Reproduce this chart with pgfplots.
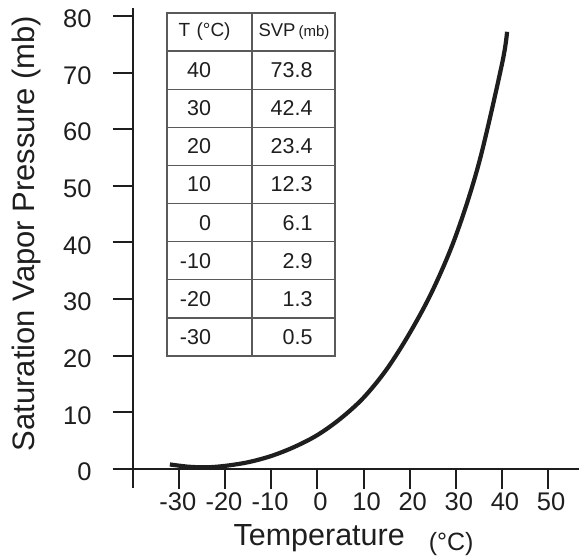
\documentclass[border=0pt]{standalone}
\usepackage{fontspec}
\setmainfont{Liberation Sans}
\usepackage{pgfplots}
\pgfplotsset{compat=1.18}
\definecolor{ink}{HTML}{1E1E1E}
\definecolor{grid}{HTML}{5A5A5A}
\begin{document}
\begin{tikzpicture}
\useasboundingbox (-133pt,-70pt) rectangle (446pt,488pt);
\begin{axis}[
    scale only axis, width=446pt, height=480pt,
    xmin=-40, xmax=56.7, ymin=-3.36, ymax=81.4,
    axis y line=left, axis x line=middle,
    axis line style={-, line width=2.3pt, ink},
    hide obscured y ticks=false, hide obscured x ticks=false,
    tick align=outside, major tick length=20pt,
    tick style={line width=2pt, ink},
    xtick={-30,-20,...,50},
    xticklabels={\llap{-}30,\llap{-}20,\llap{-}10,0,10,20,30,40,50},
    ytick={0,10,...,80},
    /pgf/number format/assume math mode=true,
    ticklabel style={font=\fontsize{25.5}{30}\selectfont, text=ink},
    xticklabel style={xshift=3pt},
    yticklabel style={xshift=-18pt, yshift=-3pt},
    xlabel={Temperature\hspace{24pt}\raisebox{-6pt}{\fontsize{25}{30}\selectfont(°C)}},
    xlabel style={at={(axis description cs:0.4944,-0.11875)}, anchor=base,
        font=\fontsize{30.5}{36}\selectfont, text=ink},
    ylabel={Saturation Vapor Pressure (mb)},
    ylabel style={at={(axis description cs:-0.2399,0.53)}, anchor=center, rotate=0,
        font=\fontsize{31}{36}\selectfont, text=ink},
    clip=false,
]
\addplot[smooth, tension=0.55, line width=4.2pt, ink, line cap=butt] coordinates {
    (-32,0.8) (-28,0.4) (-24,0.3) (-20,0.55) (-15,1.2) (-10,2.3) (-5,3.9)
    (0,6.0) (5,8.9) (10,12.6) (15,17.6) (20,24.0) (25,31.6) (30,41.2)
    (35,54.0) (40,71.5) (41.1,77.2)
};
\end{axis}
% data table drawn over the plot area
\begin{scope}[grid, line width=1.3pt]
  \draw (34pt,132pt) rectangle (202pt,475pt);
  \draw (119pt,132pt) -- (119pt,475pt);
  \foreach \i in {1,...,8} \draw (34pt,{475pt-\i*38.11pt}) -- (202pt,{475pt-\i*38.11pt});
\end{scope}
\node[text=ink, font=\fontsize{19}{22}\selectfont] at (71.6pt,456pt) {T\,\,(°C)};
\node[text=ink, font=\fontsize{18.5}{22}\selectfont] at (161pt,456pt) {SVP\,{\fontsize{15}{18}\selectfont(mb)}};
\foreach \t/\p [count=\k] in {40/73.8,30/42.4,20/23.4,10/12.3,0/6.1,-10/2.9,-20/1.3,-30/0.5} {
  \node[anchor=east, text=ink, font=\fontsize{21.5}{24}\selectfont] at (81.5pt,{475pt-(\k+0.5)*38.11pt}) {\t};
  \node[anchor=east, text=ink, font=\fontsize{21.5}{24}\selectfont] at (183pt,{475pt-(\k+0.5)*38.11pt}) {\p};
}
\end{tikzpicture}
\end{document}
